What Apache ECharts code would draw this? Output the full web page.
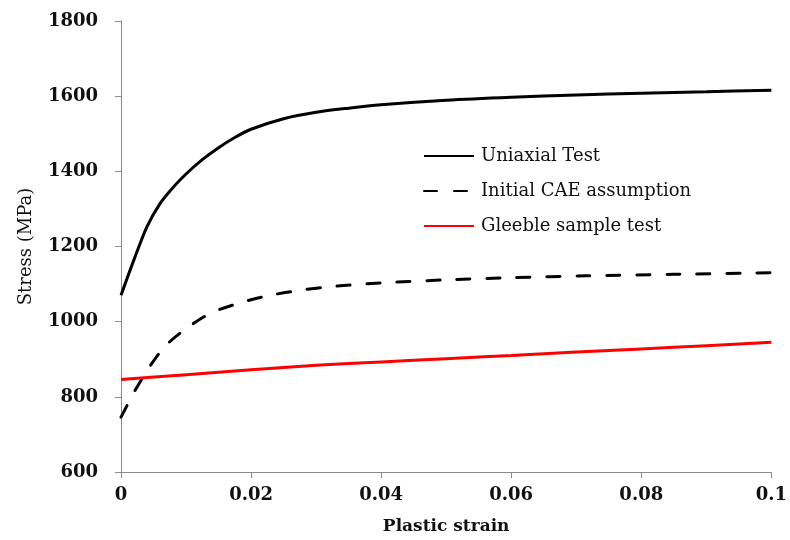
<!DOCTYPE html>
<html>
<head>
<meta charset="utf-8">
<script src="https://cdn.jsdelivr.net/npm/echarts@6/dist/echarts.min.js"></script>
<style>
html,body{margin:0;padding:0;background:#fff;}
#c{width:790px;height:540px;}
</style>
</head>
<body>
<div id="c"></div>
<script>
// Data
var seriesNames = ['Uniaxial Test', 'Initial CAE assumption', 'Gleeble sample test'];

var uniaxialStrain = [0, 0.002, 0.004, 0.006, 0.008, 0.01, 0.0125, 0.015, 0.0175, 0.02, 0.025, 0.03, 0.035, 0.04, 0.05, 0.06, 0.07, 0.08, 0.09, 0.1];
var uniaxialStress = [1070, 1165, 1253, 1314, 1357, 1393, 1431, 1463, 1490, 1512, 1540, 1557, 1568, 1577, 1589, 1597, 1603, 1608, 1612, 1616];

var caeStrain = [0, 0.0022, 0.0044, 0.0067, 0.0095, 0.0136, 0.0179, 0.0223, 0.027, 0.0315, 0.04, 0.051, 0.06, 0.0715, 0.085, 0.1];
var caeStress = [746, 818, 880, 933, 975, 1021, 1048, 1068, 1082, 1092, 1103, 1112, 1117, 1122, 1126, 1130];

var gleebleStrain = [0, 0.01, 0.02, 0.03, 0.04, 0.05, 0.06, 0.07, 0.08, 0.09, 0.1];
var gleebleStress = [846, 859, 872, 884, 893, 901.5, 910, 919, 927.5, 936, 945];

var xTicks = [0, 0.02, 0.04, 0.06, 0.08, 0.1];
var yTicks = [600, 800, 1000, 1200, 1400, 1600, 1800];

function zip(xs, ys) { return xs.map(function (x, i) { return [x, ys[i]]; }); }

var serifFont = 'DejaVu Serif';
var axisGrey = '#8a8a8a';

var chart = echarts.init(document.getElementById('c'));
chart.setOption({
  animation: false,
  backgroundColor: '#ffffff',
  grid: { left: 121, right: 17, top: 21, bottom: 68 },
  legend: {
    orient: 'vertical',
    left: 423,
    top: 147,
    padding: 0,
    itemWidth: 50,
    itemHeight: 18,
    itemGap: 17,
    data: seriesNames,
    itemStyle: { opacity: 0 },
    textStyle: { fontFamily: serifFont, fontSize: 18, color: '#111', lineHeight: 18, padding: [0, 0, 0, 2] }
  },
  xAxis: {
    type: 'value',
    min: xTicks[0],
    max: xTicks[xTicks.length - 1],
    interval: 0.02,
    name: 'Plastic strain',
    nameLocation: 'middle',
    nameGap: 46,
    nameTextStyle: { fontFamily: serifFont, fontSize: 17, fontWeight: 'bold', color: '#111' },
    splitLine: { show: false },
    axisLine: { show: true, lineStyle: { color: axisGrey, width: 1 } },
    axisTick: { show: true, length: 6, lineStyle: { color: axisGrey } },
    axisLabel: {
      margin: 14,
      fontFamily: serifFont, fontSize: 18, fontWeight: 'bold', color: '#111',
      formatter: function (v) { return String(+v.toFixed(2)); }
    }
  },
  yAxis: {
    type: 'value',
    min: yTicks[0],
    max: yTicks[yTicks.length - 1],
    interval: 200,
    name: 'Stress (MPa)',
    nameLocation: 'middle',
    nameGap: 86,
    nameTextStyle: { fontFamily: serifFont, fontSize: 18, color: '#111' },
    splitLine: { show: false },
    axisLine: { show: true, lineStyle: { color: axisGrey, width: 1 } },
    axisTick: { show: true, length: 6, lineStyle: { color: axisGrey } },
    axisLabel: {
      margin: 23, fontFamily: serifFont, fontSize: 18, fontWeight: 'bold', color: '#111',
      formatter: function (v) { return String(v); }
    }
  },
  series: [
    {
      name: seriesNames[0], type: 'line', data: zip(uniaxialStrain, uniaxialStress),
      smooth: 0.3, showSymbol: false, symbol: 'none',
      lineStyle: { color: '#000', width: 3 }, itemStyle: { color: '#000' }
    },
    {
      name: seriesNames[1], type: 'line', data: zip(caeStrain, caeStress),
      smooth: 0.3, showSymbol: false, symbol: 'none',
      lineStyle: { color: '#000', width: 3, type: [13, 17], cap: 'round' }, itemStyle: { color: '#000' }
    },
    {
      name: seriesNames[2], type: 'line', data: zip(gleebleStrain, gleebleStress),
      smooth: 0.3, showSymbol: false, symbol: 'none',
      lineStyle: { color: '#ff0000', width: 3 }, itemStyle: { color: '#ff0000' }
    }
  ]
});
</script>
</body>
</html>
